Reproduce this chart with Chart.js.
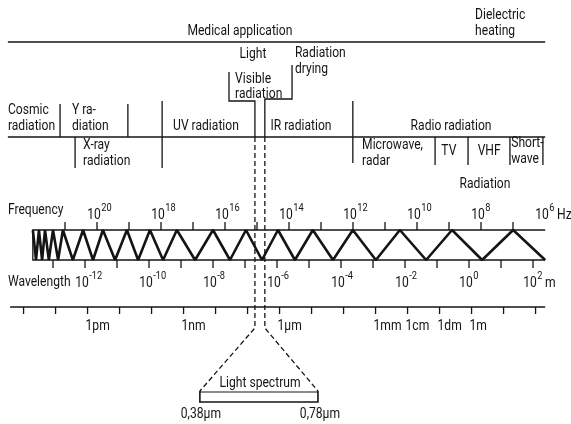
<!DOCTYPE html>
<html>
<head>
<meta charset="utf-8">
<script src="https://cdn.jsdelivr.net/npm/chart.js@4.4.1/dist/chart.umd.min.js"></script>
<style>
  html, body { margin: 0; padding: 0; background: #fff; }
</style>
</head>
<body>
<canvas id="spectrum" width="571" height="424"></canvas>
<script>
// --- data: everything on the x axis is log10(wavelength / m) ---
const freqLabelExps = [20, 18, 16, 14, 12, 10, 8, 6];
const freqTickExps = [21, 20, 19, 18, 17, 16, 15, 14, 13, 12, 11, 10, 9, 8, 7];
const wavelengthLabelExps = [-12, -10, -8, -6, -4, -2, 0, 2];
const wavelengthTickExps = [-13, -12, -11, -10, -9, -8, -7, -6, -5, -4, -3, -2, -1, 0, 1, 2];
const rulerUnits = ["1pm", "1nm", "1µm", "1mm", "1cm", "1dm", "1m"];
const rulerUnitExps = [-12, -9, -6, -3, -2, -1, 0];
const rulerTickExps = [-14, -13, -12, -11, -10, -9, -8, -7, -6, -5, -4, -3, -2, -1, 0, 1, 2];

// turning points of the zig-zag, starting on the upper edge
const waveTurns = [
  -13.63, -13.53, -13.44, -13.34, -13.25, -13.13, -13.0, -12.84, -12.69, -12.38,
  -12.06, -11.75, -11.44, -11.06, -10.69, -10.34, -9.97, -9.56, -9.13, -8.56,
  -8.0, -7.47, -6.97, -6.47, -5.97, -5.44, -4.88, -4.25, -3.63, -2.91,
  -2.16, -1.34, -0.53, 0.41, 1.38, 2.38
];

// band dividers
const upperBandEdges = [-12.78, -10.66];
const longBandEdges = [-9.59, -3.63];
const lowerBandEdges = [-12.31, -1.06, -0.03, 1.28, 2.31];
const visibleEdges = [-6.69, -6.38];
const visibleBox = [-7.5, -5.53];
const lightSpectrumEdges = [-8.41, -4.72];
const lightSpectrumLabels = ["0,38µm", "0,78µm"];
const diagramSpan = [-14.41, 2.38];
const waveSpan = [-13.63, 2.38];
const rulerSpan = [-14.34, 2.38];

// --- layout and style ---
const INK = "#141414";
const FAMILY = "Roboto, 'Liberation Sans', sans-serif";
const BASE = 15, SUP = 11.5, LH = 16;
const REF_TEXT = "Medical application", REF_WIDTH = 105; // condense so the lettering matches the original
let condense = 0.82;
const Y = {
  topRule: 42, bandRule: 137, sepShort: 104, sepLong: 101, sepLowEnd: 165, xrayEnd: 168, microEnd: 163,
  waveTop: 230, waveBottom: 260, tick: 8,
  ruler: 307, rulerTick: 7,
  dashEnd: 328, specTop: 391, specBottom: 402
};
const rulerShift = 0.08;

// captions: [lines, x (log10 m), y centre, align]
const captions = [
  [["Dielectric", "heating"], 0.19, 15, "left"],
  [["Medical application"], -7.16, 31, "center"],
  [["Light"], -6.75, 54, "center"],
  [["Radiation", "drying"], -5.44, 53, "left"],
  [["Visible", "radiation"], -7.31, 79, "left", 15],
  [["Cosmic", "radiation"], -14.41, 110, "left"],
  [["Y ra-", "diation"], -12.41, 110, "left"],
  [["UV radiation"], -8.22, 126, "center"],
  [["IR radiation"], -5.25, 126, "center"],
  [["Radio radiation"], -0.56, 126, "center"],
  [["X-ray", "radiation"], -12.06, 145, "left"],
  [["Microwave,", "radar"], -3.34, 145, "left"],
  [["TV"], -0.63, 151, "center"],
  [["VHF"], 0.63, 151, "center"],
  [["Short-", "wave"], 1.32, 143, "left"],
  [["Radiation"], 0.5, 184, "center"],
  [["Frequency"], -14.41, 210, "left"],
  [["Wavelength"], -14.41, 282, "left"],
  [["Light spectrum"], -6.53, 383, "center"]
];

const datasets = [];
function addLine(points, opt = {}) {
  datasets.push({
    data: points.map(([x, y]) => ({ x, y })),
    showLine: true,
    pointRadius: 0,
    borderColor: INK,
    borderWidth: opt.width || 1.3,
    borderDash: opt.dash || [],
    borderJoinStyle: opt.join || "miter",
    borderCapStyle: "butt",
    xAxisID: opt.axis || "x",
    fill: false,
    clip: false
  });
}

// rules
addLine([[diagramSpan[0], Y.topRule], [diagramSpan[1], Y.topRule]]);
addLine([[diagramSpan[0], Y.bandRule], [diagramSpan[1], Y.bandRule]]);
upperBandEdges.forEach(e => addLine([[e, Y.sepShort], [e, Y.bandRule]]));
addLine([[longBandEdges[0], Y.sepLong], [longBandEdges[0], Y.xrayEnd]]);
addLine([[longBandEdges[1], Y.sepLong], [longBandEdges[1], Y.microEnd]]);
addLine([[lowerBandEdges[0], Y.bandRule], [lowerBandEdges[0], Y.xrayEnd]]);
lowerBandEdges.slice(1).forEach(e => addLine([[e, Y.bandRule], [e, Y.sepLowEnd]]));

// visible radiation bracket and the dashed lead lines
addLine([[visibleBox[0], 72], [visibleBox[0], 101], [visibleEdges[0], 101], [visibleEdges[0], Y.bandRule]]);
addLine([[visibleBox[1], 65], [visibleBox[1], 99], [visibleEdges[1], 99], [visibleEdges[1], Y.bandRule]]);
addLine([[visibleEdges[0], Y.bandRule], [visibleEdges[0], Y.dashEnd], [lightSpectrumEdges[0], Y.specTop]], { dash: [5, 3] });
addLine([[visibleEdges[1], Y.bandRule], [visibleEdges[1], Y.dashEnd], [lightSpectrumEdges[1], Y.specTop]], { dash: [5, 3] });

// light spectrum box
addLine([[lightSpectrumEdges[0], Y.specTop], [lightSpectrumEdges[0], Y.specBottom], [lightSpectrumEdges[1], Y.specBottom], [lightSpectrumEdges[1], Y.specTop]], { width: 1.6 });
addLine([[lightSpectrumEdges[0], Y.specTop + 1], [lightSpectrumEdges[1], Y.specTop + 1]], { width: 1 });

// wave strip
addLine([[waveSpan[1], Y.waveTop], [waveSpan[0], Y.waveTop], [waveSpan[0], Y.waveBottom], [waveSpan[1], Y.waveBottom]]);
addLine(waveTurns.map((x, i) => [x, i % 2 === 0 ? Y.waveTop : Y.waveBottom]), { width: 2.6, join: "bevel" });
freqTickExps.forEach(e => addLine([[e, Y.waveTop - Y.tick], [e, Y.waveTop]], { axis: "xf" }));
wavelengthTickExps.forEach(e => addLine([[e, Y.waveBottom], [e, Y.waveBottom + Y.tick]]));

// length ruler
addLine([[rulerSpan[0], Y.ruler], [rulerSpan[1], Y.ruler]]);
rulerTickExps.forEach(e => addLine([[e + rulerShift, Y.ruler], [e + rulerShift, Y.ruler + Y.rulerTick]]));

// condensed text: returns drawn width
function text(ctx, str, x, y, align, size) {
  ctx.font = `${size || BASE}px ${FAMILY}`;
  const w = ctx.measureText(str).width * condense;
  const left = align === "center" ? x - w / 2 : align === "right" ? x - w : x;
  ctx.save();
  ctx.translate(left, y);
  ctx.scale(condense, 1);
  ctx.textAlign = "left";
  ctx.fillText(str, 0, 0);
  ctx.restore();
  return w;
}

function drawPower(ctx, exp, cx, y, suffix) {
  const w = text(ctx, "10", cx, y, "center");
  const ew = text(ctx, String(exp), cx + w / 2 + 0.5, y - 7, "left", SUP);
  if (suffix) text(ctx, suffix, cx + w / 2 + ew + 3, y, "left");
}

const textPlugin = {
  id: "diagramText",
  afterDatasetsDraw(chart) {
    const { ctx, scales } = chart;
    const px = v => scales.x.getPixelForValue(v);
    const py = v => scales.y.getPixelForValue(v);
    ctx.save();
    ctx.font = `${BASE}px ${FAMILY}`;
    condense = REF_WIDTH / ctx.measureText(REF_TEXT).width;
    ctx.fillStyle = INK;
    ctx.textBaseline = "middle";
    captions.forEach(([lines, x, y, align, lh]) => {
      lines.forEach((t, i) => text(ctx, t, px(x), py(y + i * (lh || LH)), align));
    });
    freqLabelExps.forEach((e, i) => {
      drawPower(ctx, e, scales.xf.getPixelForValue(e) - 3, py(215), i === freqLabelExps.length - 1 ? "Hz" : "");
    });
    wavelengthLabelExps.forEach((e, i) => {
      drawPower(ctx, e, px(e) - 3, py(283), i === wavelengthLabelExps.length - 1 ? "m" : "");
    });
    rulerUnits.forEach((u, i) => text(ctx, u, px(rulerUnitExps[i] + rulerShift) - 2, py(326), "left"));
    text(ctx, lightSpectrumLabels[0], px(lightSpectrumEdges[0]) + 1, py(414), "center");
    text(ctx, lightSpectrumLabels[1], px(lightSpectrumEdges[1]) + 2, py(414), "center");
    ctx.restore();
  }
};

new Chart(document.getElementById("spectrum"), {
  type: "scatter",
  data: { datasets },
  options: {
    responsive: false,
    animation: false,
    events: [],
    layout: { padding: 0 },
    scales: {
      x: { type: "linear", min: -14.65625, max: 3.1875, display: false },
      xf: { type: "linear", axis: "x", min: 5.1875, max: 23.03125, reverse: true, display: false },
      y: { type: "linear", min: 0, max: 424, reverse: true, display: false }
    },
    plugins: { legend: { display: false }, tooltip: { enabled: false } }
  },
  plugins: [textPlugin]
});
</script>
</body>
</html>
